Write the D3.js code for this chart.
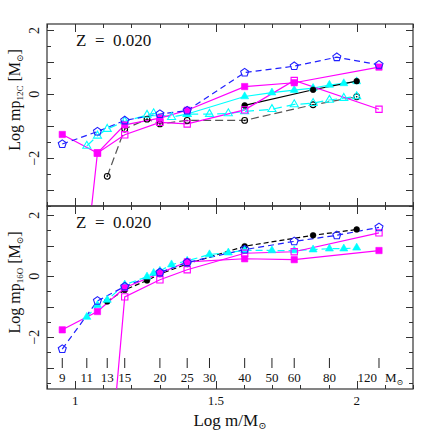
<!DOCTYPE html>
<html>
<head>
<meta charset="utf-8">
<script src="https://cdn.jsdelivr.net/npm/d3@7"></script>
<style>
  body { margin: 0; background: #fff; }
  svg { display: block; }
  text { font-family: "Liberation Serif", "DejaVu Serif", serif; fill: #111; }
</style>
</head>
<body>
<div id="chart"></div>
<script>
// ---- data (masses in Msun, values are Log of yields in Msun) ----
// magenta filled squares
const massMagFilled = [9, 12, 15, 20, 25, 40, 60, 120];
const c12MagFilled = [-1.26, -1.84, -0.96, -0.75, -0.50, 0.24, 0.36, 0.85];
const o16MagFilled = [-1.76, -1.16, -0.38, 0.10, 0.47, 0.57, 0.54, 0.84];

// magenta open squares (first model falls far below the frame)
const massMagOpenC = [11, 12, 15, 20, 25, 40, 60, 120];
const c12MagOpen = [-4.9, -1.84, -1.27, -0.88, -0.93, -0.49, 0.43, -0.47];
const massMagOpenO = [13, 15, 20, 25, 40, 60, 120];
const o16MagOpen = [-7.2, -0.68, -0.12, 0.21, 0.75, 0.80, 1.42];

// blue open pentagons
const massPent = [9, 12, 15, 20, 25, 40, 60, 85, 120];
const c12Pent = [-1.56, -1.17, -0.82, -0.62, -0.51, 0.68, 0.88, 1.16, 0.92];
const o16Pent = [-2.39, -0.81, -0.34, 0.12, 0.45, 0.87, 1.14, 1.34, 1.60];

// black open circles (C12 only)
const massCircOpen = [13, 15, 18, 20, 25, 40, 70, 100];
const c12CircOpen = [-2.57, -1.09, -0.78, -0.93, -0.82, -0.82, -0.33, -0.08];

// black filled circles
const massCircC = [40, 70, 100];
const c12Circ = [-0.35, 0.14, 0.41];
const massCircO = [13, 15, 18, 20, 25, 40, 70, 100];
const o16Circ = [-0.83, -0.45, -0.14, 0.07, 0.40, 0.98, 1.34, 1.53];

// cyan open triangles (C12 only)
const massTriOpen = [11, 12, 13, 15, 18, 19, 22, 25, 30, 35, 40, 50, 60, 70, 80, 90, 100];
const c12TriOpen = [-1.62, -1.30, -1.09, -0.85, -0.65, -0.60, -0.72, -0.62, -0.62, -0.60, -0.54, -0.47, -0.32, -0.28, -0.18, -0.12, -0.07];

// cyan filled triangles
const massTriC = [25, 40, 50, 60, 70, 80, 90, 100];
const c12Tri = [-0.62, -0.07, 0.05, 0.13, 0.19, 0.29, 0.34, 0.40];
const massTriO = [11, 12, 13, 15, 18, 19, 20, 22, 25, 30, 35, 40, 50, 60, 70, 80, 90, 100];
const o16Tri = [-1.34, -0.95, -0.78, -0.28, -0.02, 0.10, 0.17, 0.38, 0.50, 0.71, 0.77, 0.85, 0.84, 0.84, 0.87, 0.90, 0.90, 0.93];

// axis ticks
const xLabelTicks = [1, 1.5, 2];
const yLabelTicks = [-2, 0, 2];
const massTicks = [9, 11, 13, 15, 20, 25, 30, 40, 50, 60, 80, 120];

const zLabel = "Z  =  0.020";

// ---- layout ----
const W = 436, H = 436;
const left = 47, right = 413;
const topPanel = { y0: 24, y1: 206, domain: [-3.5, 2.2] };
const botPanel = { y0: 206, y1: 389, domain: [-3.7, 2.3] };

const MAG = "#ff00ff", CYAN = "#00ffff", BLUE = "#2020ff", BLACK = "#000";

const svg = d3.select("#chart").append("svg").attr("width", W).attr("height", H);

const x = d3.scaleLinear().domain([0.9, 2.2]).range([left, right]);

// pentagon symbol (d3 has none)
const symbolPentagon = {
  draw(ctx, size) {
    const r = Math.sqrt(size / 2.378);
    for (let i = 0; i < 5; i++) {
      const a = -Math.PI / 2 + i * 2 * Math.PI / 5;
      const px = r * Math.cos(a), py = r * Math.sin(a);
      i ? ctx.lineTo(px, py) : ctx.moveTo(px, py);
    }
    ctx.closePath();
  }
};

const markers = {
  square: d3.symbol(d3.symbolSquare, 40),
  triangle: d3.symbol(d3.symbolTriangle, 28),
  circle: d3.symbol(d3.symbolCircle, 26),
  pentagon: d3.symbol(symbolPentagon, 42),
};

function drawPanel(p, series, yName, idx) {
  const y = d3.scaleLinear().domain(p.domain).range([p.y1, p.y0]);
  const g = svg.append("g");

  const clipId = "clip" + idx;
  svg.append("clipPath").attr("id", clipId)
    .append("rect").attr("x", left).attr("y", p.y0)
    .attr("width", right - left).attr("height", p.y1 - p.y0);

  // ticks: inward on all four sides
  const xMinor = d3.range(9, 23).map(d => d / 10);
  const yMinor = d3.range(Math.ceil(p.domain[0] * 2), Math.floor(p.domain[1] * 2) + 1).map(d => d / 2);
  const ticks = g.append("g").attr("stroke", "#333").attr("stroke-width", 1);
  xMinor.forEach(v => {
    const len = Math.abs(v * 2 - Math.round(v * 2)) < 1e-6 ? 8 : 4;
    const xx = Math.round(x(v)) + 0.5;
    ticks.append("line").attr("x1", xx).attr("x2", xx).attr("y1", p.y1).attr("y2", p.y1 - len);
    ticks.append("line").attr("x1", xx).attr("x2", xx).attr("y1", p.y0).attr("y2", p.y0 + len);
  });
  yMinor.forEach(v => {
    const len = Number.isInteger(v) ? 7 : 4;
    const yy = Math.round(y(v)) + 0.5;
    ticks.append("line").attr("x1", left).attr("x2", left + len).attr("y1", yy).attr("y2", yy);
    ticks.append("line").attr("x1", right).attr("x2", right - len).attr("y1", yy).attr("y2", yy);
  });

  // frame
  g.append("rect").attr("x", left).attr("y", p.y0)
    .attr("width", right - left).attr("height", p.y1 - p.y0)
    .attr("fill", "none").attr("stroke", "#333").attr("stroke-width", 1.2);

  // rotated y tick labels
  yLabelTicks.forEach(v => {
    g.append("text")
      .attr("transform", `translate(39,${y(v)}) rotate(-90)`)
      .attr("text-anchor", "middle")
      .attr("font-size", 14)
      .text(v < 0 ? "\u2212" + Math.abs(v) : v);
  });

  // y axis title
  const cy = (p.y0 + p.y1) / 2 - 15;
  const title = g.append("text")
    .attr("transform", `translate(20,${cy}) rotate(-90)`)
    .attr("text-anchor", "middle")
    .attr("font-size", 16);
  title.append("tspan").text("Log  mp");
  title.append("tspan").attr("font-size", 9).attr("dy", 3).text(yName);
  title.append("tspan").attr("dy", -3).text(" [M");
  title.append("tspan").attr("font-size", 9).attr("dy", 3).text("\u2299");
  title.append("tspan").attr("dy", -3).text("]");

  // Z label
  g.append("text").attr("x", 76).attr("y", p.y0 + 22)
    .attr("font-size", 17).attr("xml:space", "preserve")
    .style("white-space", "pre").text(zLabel);

  // series
  const plot = g.append("g").attr("clip-path", `url(#${clipId})`);
  series.forEach(s => {
    const pts = s.mass.map((m, i) => [x(Math.log10(m)), y(s.val[i])]);
    if (s.line) {
      plot.append("path")
        .attr("d", d3.line()(pts))
        .attr("fill", "none")
        .attr("stroke", s.lineColor || s.color)
        .attr("stroke-width", 1.2)
        .attr("stroke-dasharray", s.dash || null);
    }
  });
  series.forEach(s => {
    const pts = s.mass.map((m, i) => [x(Math.log10(m)), y(s.val[i])]);
    plot.selectAll(null).data(pts).enter().append("path")
      .attr("transform", d => `translate(${d[0]},${d[1]})`)
      .attr("d", markers[s.marker]())
      .attr("fill", s.filled ? s.color : "none")
      .attr("stroke", s.color)
      .attr("stroke-width", s.filled ? 0.6 : 1.1);
    if (s.dot) {
      plot.selectAll(null).data(pts).enter().append("circle")
        .attr("cx", d => d[0]).attr("cy", d => d[1]).attr("r", 0.8)
        .attr("fill", s.color);
    }
  });
  return y;
}

// top panel: 12C
drawPanel(topPanel, [
  { mass: massCircOpen, val: c12CircOpen, color: BLACK, lineColor: "#555", marker: "circle", filled: false, dot: true, line: true, dash: "8,4" },
  { mass: massTriOpen, val: c12TriOpen, color: CYAN, marker: "triangle", filled: false, line: true, dash: "9,5" },
  { mass: massTriC, val: c12Tri, color: CYAN, marker: "triangle", filled: true, line: true },
  { mass: massCircC, val: c12Circ, color: BLACK, marker: "circle", filled: true, line: true },
  { mass: massMagOpenC, val: c12MagOpen, color: MAG, marker: "square", filled: false, line: true },
  { mass: massMagFilled, val: c12MagFilled, color: MAG, marker: "square", filled: true, line: true },
  { mass: massPent, val: c12Pent, color: BLUE, marker: "pentagon", filled: false, line: true, dash: "6,4" },
], "12C", 0);

// bottom panel: 16O
drawPanel(botPanel, [
  { mass: massCircO, val: o16Circ, color: BLACK, marker: "circle", filled: true, line: true, dash: "5,3" },
  { mass: massTriO, val: o16Tri, color: CYAN, marker: "triangle", filled: true, line: true, dash: "7,4" },
  { mass: massMagOpenO, val: o16MagOpen, color: MAG, marker: "square", filled: false, line: true },
  { mass: massMagFilled, val: o16MagFilled, color: MAG, marker: "square", filled: true, line: true },
  { mass: massPent, val: o16Pent, color: BLUE, marker: "pentagon", filled: false, line: true, dash: "6,4" },
], "16O", 1);

// mass labels along the bottom of the lower panel
const mg = svg.append("g");
massTicks.forEach(m => {
  const xx = x(Math.log10(m));
  mg.append("line").attr("x1", xx).attr("x2", xx).attr("y1", 358).attr("y2", 368)
    .attr("stroke", "#222").attr("stroke-width", 1);
  const last = m === massTicks[massTicks.length - 1];
  mg.append("text")
    .attr("x", last ? xx - 2 : xx).attr("y", 382)
    .attr("text-anchor", last ? "end" : "middle")
    .attr("font-size", 13).text(m);
});
const msun = mg.append("text")
  .attr("x", x(Math.log10(massTicks[massTicks.length - 1])) + 6).attr("y", 382)
  .attr("font-size", 13);
msun.append("tspan").text("M");
msun.append("tspan").attr("font-size", 8).attr("dy", 3).text("\u2299");

// x tick labels and title
xLabelTicks.forEach(v => {
  svg.append("text").attr("x", x(v)).attr("y", 405)
    .attr("text-anchor", "middle").attr("font-size", 13).text(v);
});
const xt = svg.append("text").attr("x", 230).attr("y", 426)
  .attr("text-anchor", "middle").attr("font-size", 17);
xt.append("tspan").text("Log  m/M");
xt.append("tspan").attr("font-size", 10).attr("dy", 3).text("\u2299");
</script>
</body>
</html>
